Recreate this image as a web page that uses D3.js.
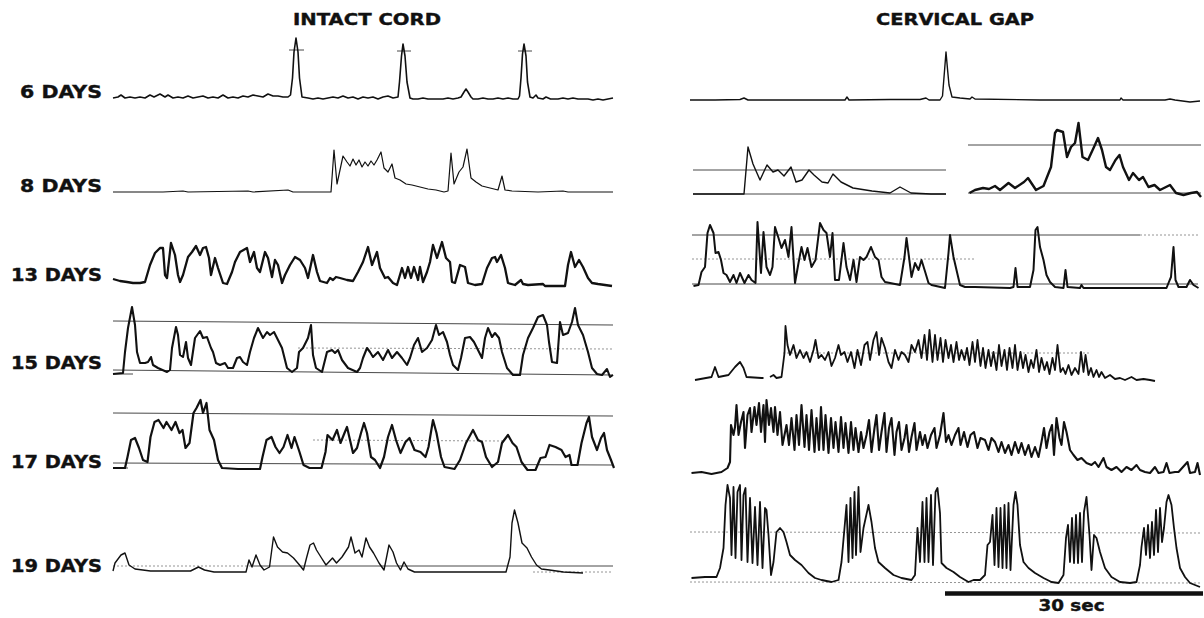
<!DOCTYPE html>
<html>
<head>
<meta charset="utf-8">
<script src="https://cdn.jsdelivr.net/npm/d3@7"></script>
<style>
  html, body { margin: 0; padding: 0; background: #fff; }
  svg { display: block; }
  text { font-family: "DejaVu Sans", "Liberation Sans", sans-serif; font-weight: bold; fill: #111; }
</style>
</head>
<body>
<script>
// ---------------- DATA ----------------
// time in sweep units (left sweep 0..100, right sweep 0..102; 51 units = 30 sec)
// amplitude in arbitrary units above each record's baseline
const panelTitles = ["INTACT CORD", "CERVICAL GAP"];
const rowLabels = ["6 DAYS", "8 DAYS", "13 DAYS", "15 DAYS", "17 DAYS", "19 DAYS"];
const scaleBarLabel = "30 sec";
const scaleBarSpan = [51, 102];

const intact6 = [[0,2],[1,3],[1.6,5],[2.4,2],[3.4,3],[4.4,2],[5.4,3],[6.4,2],[7.4,5],[8.2,3],[9.4,6],[10.4,3],[11,5],[12,2],[13,3],[14,2],[15,4],[16,2],[17,3],[18,4],[19,2],[20,3],[21,2],[22,5],[23,2],[24,3],[25,2],[26,4],[27,3],[28,5],[29,4],[30,3],[31,6],[32,4],[33,4],[34,3],[35,3],[35.5,5],[35.9,22],[36.2,48],[36.6,62],[37,48],[37.3,22],[37.8,3],[39,2],[40,1],[41,2],[42,1],[43,2],[44,3],[45,2],[46,4],[47,2],[48,3],[49,1],[50,3],[51,2],[52,3],[53,1],[54,3],[55,4],[56,2],[57,3],[57.3,18],[57.7,44],[58,56],[58.4,44],[58.8,18],[59.4,2],[60,1],[61,1],[62,2],[63,1],[64,1],[65,1],[66,1],[67,2],[68,1],[69,2],[69.6,3],[70.2,8],[70.6,11],[71,8],[71.6,3],[72,1],[73,1],[74,2],[75,1],[76,1],[77,2],[78,1],[79,2],[80,1],[81,1],[81.3,4],[81.6,22],[81.9,46],[82.2,56],[82.6,44],[82.9,18],[83.4,3],[84,2],[84.6,5],[85,2],[86,1],[86.6,3],[87.5,1],[88,1],[89,1],[90,2],[91,1],[92,2],[93,1],[94,1],[95,1],[96,0],[97,1],[98,0],[99,1],[100,2]];

const intact8 = [[0,0],[10,0],[14,1],[15,0],[27,1],[28,0],[35,2],[36,0],[43.6,0],[44.2,42],[44.8,8],[46,36],[46.8,30],[47.4,26],[48,33],[48.6,27],[49.2,32],[49.8,25],[50.4,30],[51,26],[51.6,31],[52.2,27],[52.8,32],[53.6,40],[54.2,24],[55,20],[55.8,28],[56.4,14],[57.4,12],[58.6,8],[59.8,7],[61.4,5],[63,3],[64.6,2],[66.2,0],[67,1],[67.6,39],[68.2,8],[69.2,20],[70,25],[70.8,43],[71.6,14],[72.6,10],[73.8,6],[75.4,4],[77,2],[77.8,16],[78.4,2],[79.8,1],[85,0],[90,1],[91,0],[100,0]];

const intact13 = [[0,6],[1.4,4],[2.8,3],[4,2],[5.4,2],[6.4,3],[7.4,20],[8.4,32],[9.4,37],[10,37],[10.4,10],[10.8,7],[11.6,42],[12.4,30],[13,10],[13.4,3],[14,10],[15,28],[15.8,33],[16.6,39],[17.4,30],[18,37],[18.6,38],[19.2,27],[19.6,10],[20.4,27],[21,17],[22,2],[22.8,1],[23.8,13],[24.4,23],[25.4,33],[26.8,37],[27.4,23],[28.2,33],[28.8,17],[29.4,13],[30.4,33],[31,27],[31.8,8],[32.4,25],[33,20],[33.8,2],[34.4,10],[35.4,20],[36.4,28],[37.4,25],[38.4,17],[39,7],[40,30],[40.8,13],[41.4,4],[42.8,2],[43.4,7],[44,5],[44.6,8],[45.4,7],[46.8,5],[48,4],[49,13],[50,23],[51,38],[51.8,20],[52.8,33],[53.4,17],[54.4,7],[55,8],[56,2],[56.8,0],[57.8,17],[58.4,7],[59,18],[59.6,7],[60.2,18],[61,5],[61.4,18],[62,3],[62.8,13],[63.4,23],[64,40],[64.8,27],[65.8,43],[66.6,27],[67.4,23],[67.8,3],[68.4,2],[69.4,20],[70.4,18],[71,2],[72.4,0],[73.8,1],[74.8,17],[75.8,27],[76.4,28],[76.8,23],[77.6,30],[78.4,17],[79,2],[80.4,0],[81.6,5],[82,1],[83,0],[86,1],[86.4,-1],[88.4,-1],[90.4,-1],[91,20],[91.6,33],[92.4,18],[93.2,25],[94,18],[95,7],[95.8,2],[97,1],[99.8,-1]];

const intact15 = [[0,0],[2,1],[2.4,22],[3,46],[3.8,67],[4.4,49],[4.8,22],[5.4,11],[6.4,11],[7,12],[7.6,17],[8,9],[9,6],[10.8,2],[11.4,4],[11.8,26],[12.6,47],[13,39],[13.4,19],[14,17],[14.6,32],[15,16],[15.6,9],[16.4,36],[17.4,43],[18,36],[18.8,37],[19.6,26],[20,22],[20.6,11],[21.4,9],[22.4,11],[23,6],[24,6],[24.8,16],[25.4,17],[26,12],[26.8,9],[27.4,22],[28.2,36],[29,46],[30,36],[30.8,42],[31.4,39],[32.2,42],[33,34],[33.8,26],[34.8,6],[35.8,2],[36.8,6],[37.2,22],[38,26],[39,36],[39.6,49],[40,19],[40.6,6],[41.8,2],[42.8,22],[43.8,24],[44.4,21],[45,24],[45.8,14],[47,6],[48.8,2],[49.4,6],[50,16],[50.8,26],[51.4,22],[52,17],[53,22],[54,14],[55,24],[55.8,16],[56.8,22],[57.8,16],[58.8,9],[59.4,16],[60.2,29],[61,36],[61.8,22],[62.8,26],[63.8,34],[64.6,49],[65.2,39],[66,42],[66.8,32],[67.4,19],[68,9],[69,4],[69.6,16],[70.4,36],[71.4,37],[72.2,32],[73.2,22],[73.8,16],[74.4,36],[75,46],[75.8,37],[76.4,41],[77.2,36],[77.8,22],[78.8,6],[80,-1],[81.4,-1],[82,19],[83,36],[84,46],[85,57],[86,59],[86.8,49],[87.2,32],[87.8,12],[88.8,11],[89.4,52],[90,39],[91,41],[91.8,52],[92.4,66],[93,49],[94,39],[95,22],[95.8,6],[96.8,0],[97.8,-1],[98.8,5],[99.4,-3],[100,-1]];

const intact17 = [[0,0],[2.4,0],[2.9,11],[3.6,28],[4.4,30],[5.2,20],[6,8],[6.9,6],[7.5,31],[8.3,46],[9.1,48],[10.1,40],[10.7,46],[11.7,38],[12.5,46],[13.3,35],[13.9,38],[14.5,20],[15.3,25],[16.1,55],[16.7,60],[17.5,68],[18,55],[18.7,65],[19.3,38],[20.2,28],[21,8],[21.8,0],[25,-1],[29.4,-1],[29.9,11],[30.7,28],[31.7,31],[32.5,21],[33.3,15],[34.1,21],[34.9,33],[35.7,20],[36.3,31],[37.3,16],[38.1,3],[39.3,0],[41.7,0],[42.5,16],[42.9,33],[43.9,28],[44.8,38],[45.5,25],[46.3,35],[46.8,41],[47.4,28],[48,15],[48.8,20],[49.6,35],[50.2,45],[50.8,35],[51.6,11],[52.4,8],[53.4,0],[54.2,11],[55,31],[55.8,43],[56.6,28],[57.5,15],[58.5,26],[59.3,30],[60.3,18],[61.5,16],[62.5,11],[63.1,21],[64,48],[64.7,35],[65.6,11],[66.3,1],[68.3,-1],[69.4,8],[70.6,25],[72,38],[73,28],[73.8,26],[74.6,11],[75.8,1],[77,6],[77.8,25],[79,33],[79.9,25],[80.7,21],[81.7,6],[82.9,-2],[84.5,-2],[85.5,10],[86.5,11],[87.3,23],[88.5,21],[89.7,18],[90.5,11],[91.3,13],[91.7,3],[92.9,3],[93.7,25],[94.7,45],[95.2,51],[95.8,31],[96.8,18],[97.6,30],[98.2,35],[98.8,18],[99.6,8],[100.2,0]];

const intact19 = [[0,1],[0.4,9],[1.6,17],[2.4,19],[3.2,7],[4.4,3],[7.5,1],[15.5,1],[17.1,5],[18.3,2],[20.2,0],[26.6,0],[27.2,12],[27.8,5],[28.6,17],[29.4,7],[30.2,2],[31.3,5],[32.1,35],[32.9,25],[33.9,20],[34.9,19],[36.1,14],[37.3,7],[38.1,2],[38.7,14],[39.4,27],[40.1,29],[40.7,22],[41.7,14],[42.6,7],[43.9,14],[44.7,9],[45.8,15],[47.1,25],[47.6,35],[48.4,19],[49.2,22],[49.8,15],[50.6,34],[51.3,25],[52.1,19],[53.2,9],[54.2,2],[55.2,27],[56,20],[56.7,9],[57.5,2],[58.2,10],[59,3],[60.3,0],[78.6,0],[79.4,15],[79.8,49],[80.3,62],[81,49],[81.8,29],[82.8,24],[83.7,15],[84.7,7],[85.7,3],[87.3,2],[90.1,0],[94,-1]];

const gap6 = [[0,1],[5,1],[10,1.5],[10.8,3],[11.6,1],[20,1],[31,1],[31.4,4],[31.8,1],[40,1.5],[46,1.5],[47.2,3],[47.8,1],[50,1],[50.5,5],[50.9,30],[51.2,49],[51.5,32],[51.8,16],[52.4,4],[54,3],[56,2],[56.4,4],[57,2],[70,1],[80,1],[86,1],[86.2,3],[86.6,1],[95,1],[96,2],[97,1],[100,-1],[102,0]];

const gap8a = [[0.6,0],[10.8,0],[11.6,47],[12.6,30],[14,14],[15.4,29],[16.6,22],[17.6,24],[18.8,18],[20.2,27],[21.2,12],[22.4,14],[23.8,24],[24.8,19],[26.4,12],[27.6,11],[28.6,20],[30.2,12],[32.6,6],[36.4,3],[40,1],[42,7],[44.2,1],[48.2,0],[51.2,0]];

const gap8b = [[55.9,1],[57,4],[58.6,6],[59.8,5],[61,8],[62,4],[63.7,11],[65,6],[66.8,12],[67.6,16],[69.2,4],[70.7,8],[72.2,27],[73,61],[73.4,64],[74.6,62],[75.4,37],[76.2,47],[77,51],[77.7,71],[78.5,37],[79.6,34],[80.8,47],[81.6,56],[82.4,44],[83.2,27],[84,24],[85.1,34],[85.9,39],[86.6,27],[87.8,14],[88.6,21],[89.8,14],[90.6,17],[91.7,7],[92.9,9],[94,4],[96,9],[97.2,1],[98.7,-1],[100.2,1],[101.4,2],[102.2,-3]];

const gap13 = [[0.7,-1],[1.7,0],[2.3,13],[3,18],[3.5,52],[4,60],[4.7,52],[5.1,32],[5.7,33],[6.2,25],[6.7,12],[7.3,10],[8,3],[8.7,10],[9.3,2],[10,12],[10.9,2],[11.7,10],[12.3,5],[13.1,2],[13.5,63],[14.2,12],[14.7,53],[15.3,18],[16,10],[16.5,18],[17,58],[17.7,47],[18.3,37],[19,45],[19.7,28],[20.3,58],[21,2],[21.7,22],[22.3,38],[22.9,25],[23.5,37],[24.3,18],[25.1,25],[26,62],[26.7,55],[27.3,52],[28,28],[28.5,52],[29,5],[29.8,5],[30.7,42],[31.3,18],[32,5],[32.7,25],[33.3,3],[34,28],[34.7,25],[35.3,28],[36.2,38],[37,28],[37.7,25],[38.3,8],[39,3],[40,2],[42,0],[42.9,28],[43.3,47],[43.8,28],[44.3,8],[45,22],[45.7,15],[46.3,25],[47.1,12],[47.7,2],[48.3,0],[51,-3],[51.7,32],[52,50],[52.7,28],[53.3,15],[54,0],[55,-2],[57,-2],[64,-3],[64.7,-2],[65.1,17],[65.5,-2],[68,-2],[68.7,15],[69.1,55],[69.5,58],[70,38],[70.7,25],[71.3,10],[72,3],[73,-2],[74.7,-3],[75.1,15],[75.5,-2],[78,-3],[78.3,0],[78.7,-3],[95.3,-3],[95.7,2],[96.2,8],[96.7,38],[97.1,5],[97.7,-2],[99.3,-2],[100,5],[100.7,0],[101.7,-3]];

const gap15 = [[1,0],[4.3,3],[5,13],[5.7,3],[7.7,5],[9,13],[10,18],[10.7,12],[11.3,3],[14.3,2],[14.7,2],[15.2,null],[16,3],[16.7,5],[17.3,2],[18.3,3],[18.9,27],[19.1,54],[19.5,35],[20,25],[20.7,35],[21.3,22],[22,30],[22.7,22],[23.3,28],[24,18],[24.7,30],[25.1,40],[25.7,22],[26.3,25],[27,20],[27.7,28],[28.3,14],[29,22],[29.7,35],[30.2,25],[30.9,28],[31.5,18],[32.2,28],[32.9,12],[33.5,30],[34.2,15],[34.9,35],[35.5,38],[36,20],[36.7,40],[37.3,48],[37.8,25],[38.3,42],[39,32],[39.7,18],[40.3,12],[41,30],[41.7,20],[42.3,28],[43,25],[43.7,18],[44.3,35],[45,28],[45.7,40],[46.3,22],[46.9,45],[47.4,20],[47.9,50],[48.5,18],[49,45],[49.5,20],[50.1,42],[50.6,18],[51.1,40],[51.7,22],[52.2,35],[52.7,18],[53.3,38],[53.8,20],[54.3,30],[54.9,20],[55.4,32],[55.9,15],[56.5,38],[57,18],[57.5,40],[58.1,14],[58.6,32],[59.1,12],[59.7,30],[60.2,14],[60.7,28],[61.3,10],[61.8,35],[62.3,14],[62.9,30],[63.4,10],[63.9,32],[64.5,12],[65,35],[65.5,10],[66.1,28],[66.6,12],[67.1,25],[67.7,8],[68.2,20],[68.7,12],[69.3,30],[69.8,8],[70.3,22],[70.9,10],[71.4,18],[71.9,6],[72.5,22],[73,10],[73.5,35],[74.1,8],[74.6,12],[75.1,6],[75.7,15],[76.3,5],[77,12],[77.7,6],[78.2,28],[78.7,8],[79.1,25],[79.7,5],[80.2,12],[80.7,3],[81.3,10],[81.8,3],[82.3,8],[83,2],[84,5],[85,1],[86,2],[87,0],[88.3,3],[89.3,0],[90.7,1],[92,0],[93,-1]];

const gap17 = [[0.3,1],[2.3,2],[4.3,0],[6.3,2],[7.5,6],[8,12],[8.2,49],[8.7,39],[9,47],[9.3,69],[9.7,39],[10.2,52],[10.7,62],[11,26],[11.5,59],[12,66],[12.3,42],[12.9,67],[13.3,49],[13.8,71],[14.2,42],[14.7,69],[15,32],[15.3,74],[15.8,49],[16.2,66],[16.7,42],[17,67],[17.5,39],[18,62],[18.5,29],[18.9,39],[19.3,49],[19.8,29],[20.3,56],[20.9,24],[21.3,59],[21.8,29],[22.3,69],[22.9,27],[23.3,59],[23.8,24],[24.3,64],[24.9,22],[25.3,56],[25.8,24],[26.2,67],[26.7,24],[27.1,59],[27.7,21],[28.2,56],[28.7,26],[29.1,52],[29.7,22],[30.2,57],[30.7,26],[31.1,51],[31.7,21],[32.2,52],[32.7,24],[33.1,46],[33.7,22],[34.2,42],[34.7,26],[35.3,39],[35.8,54],[36.3,22],[36.9,46],[37.3,59],[37.8,24],[38.3,42],[38.9,61],[39.3,22],[39.8,46],[40.3,56],[40.9,19],[41.3,42],[41.8,52],[42.3,24],[42.9,36],[43.3,49],[43.8,22],[44.3,37],[44.9,51],[45.3,24],[46,42],[46.5,29],[47,39],[47.5,26],[48.2,39],[48.9,46],[49.3,26],[50,39],[50.7,61],[51.2,32],[51.7,39],[52.3,29],[53,39],[53.7,46],[54.1,29],[54.8,42],[55.5,27],[56.1,39],[56.8,42],[57.5,26],[58.1,36],[59,34],[59.7,24],[60.3,36],[61,32],[61.7,22],[62.3,32],[63,21],[63.7,29],[64.3,19],[65,32],[65.7,21],[66.3,31],[67,19],[67.7,29],[68.3,17],[69,27],[69.7,17],[70.3,32],[70.8,46],[71.3,26],[71.9,42],[72.4,49],[72.8,19],[73.3,56],[73.9,36],[74.3,29],[74.8,52],[75.3,42],[76,24],[76.7,19],[77.5,14],[78.3,16],[79.3,11],[80.3,9],[81,12],[81.7,7],[82.7,16],[83.3,7],[84.3,4],[85.3,7],[86.3,2],[87.3,7],[88.3,4],[89.3,9],[90,4],[91,2],[92,1],[93,7],[93.7,1],[94.7,2],[95.3,11],[95.9,1],[97,2],[97.7,2],[99.5,12],[100,1],[101,2],[101.5,11],[102,-1]];

const gap19 = [[0.3,5],[3,6],[5.3,6],[6,15],[6.7,35],[7.1,78],[7.5,98],[8,85],[8.3,28],[8.7,96],[9.1,25],[9.5,91],[10,98],[10.3,23],[10.7,88],[11.1,95],[11.5,21],[12,85],[12.5,20],[13,76],[13.5,18],[14,81],[14.5,15],[15,75],[15.3,73],[15.7,48],[16.2,8],[16.7,21],[17.3,51],[18,55],[18.7,51],[19.3,41],[20,28],[21,23],[22.3,18],[23.7,10],[25,5],[26.3,3],[28.3,1],[29.7,3],[30.3,21],[30.9,55],[31.3,78],[31.7,21],[32.1,85],[32.5,25],[32.9,91],[33.2,28],[33.7,96],[34.1,31],[34.7,55],[35.7,78],[36.3,61],[37,35],[37.7,21],[39,15],[40.7,8],[42.3,5],[44.3,3],[45,8],[45.5,55],[46,21],[46.5,81],[46.9,21],[47.3,85],[47.7,21],[48.2,88],[48.6,18],[49.1,91],[49.5,95],[50,70],[50.3,20],[51.3,15],[52.7,11],[54,6],[55.7,1],[56.7,3],[58,3],[59,8],[59.5,38],[60,41],[60.5,68],[60.9,18],[61.3,75],[61.7,16],[62.1,75],[62.5,15],[62.9,78],[63.3,15],[63.7,80],[64.1,13],[64.7,78],[65.1,91],[65.5,78],[66,38],[66.7,21],[67.7,15],[69,10],[70.7,5],[72.3,1],[73.7,0],[74.7,8],[75.2,45],[75.6,58],[76,21],[76.4,65],[76.8,20],[77.2,68],[77.6,20],[78,70],[78.4,21],[78.8,71],[79.3,86],[79.9,48],[80.3,13],[80.8,48],[81.3,45],[82,31],[83,15],[84.3,6],[86,1],[88,0],[89.3,1],[90,18],[90.3,36],[90.8,55],[91.2,28],[91.6,58],[92,25],[92.4,61],[92.8,28],[93.2,73],[93.6,31],[94,75],[94.4,41],[94.8,55],[95.3,81],[95.7,88],[96.3,78],[96.8,55],[97.3,35],[98,15],[99,6],[100,0],[101,-2],[102,-4]];

// reference lines: [tStart, tEnd, levelStart, levelEnd, kind]
const intact6Refs  = [[35.2,38.2,50,50,"s"],[56.8,59.6,49,49,"s"],[81,83.8,49,49,"s"]];
const intact15Refs = [[0,100,53,49,"s"],[0,100,4,-1,"s"],[37,100,26,25,"d"],[0,4,0,0,"s"]];
const intact17Refs = [[0,100,55,52,"s"],[0,100,5,3,"s"],[40,78,28,27,"d"],[0,3,0,0,"s"]];
const intact19Refs = [[0,28,6,6,"d"],[28,100,6,6,"s"],[84,100,0,0,"d"]];
const gap8aRefs  = [[0.6,51.2,24,24,"s"],[0.6,51.2,0,0,"s"]];
const gap8bRefs  = [[55.6,102.2,49,49,"s"],[55.6,102.2,1,1,"s"]];
const gap13Refs  = [[0.4,90,50,50,"s"],[90,101.6,50,50,"d"],[0.4,57,26,26,"d"],[0.4,101.6,1,1,"s"]];
const gap15Refs  = [[18.6,80,27,27,"d"]];
const gap19Refs  = [[0,102,51,50,"d"],[0,102,1,0,"d"]];

// ---------------- LAYOUT ----------------
const W = 1204, H = 618;
const sweepL = [113, 613], sweepR = [690, 1200];
const rowBaseL = [100, 192, 285, 374, 468, 572];
const rowBaseR = [101, 194, 285, 380, 474, 583];
const labelBaselines = [98, 192, 281, 369, 468, 572];
const labelRight = 102;

const svg = d3.select("body").append("svg").attr("width", W).attr("height", H);

const xL = d3.scaleLinear().domain([0, 100]).range(sweepL);
const xR = d3.scaleLinear().domain([0, 102]).range(sweepR);
const yAt = base => d3.scaleLinear().domain([0, 100]).range([base, base - 100]);

// titles
const titleSpec = [
  {text: panelTitles[0], cx: 367, len: 148},
  {text: panelTitles[1], cx: 955, len: 158}
];
svg.selectAll("text.title").data(titleSpec).join("text")
  .attr("class", "title")
  .attr("x", d => d.cx - d.len / 2)
  .attr("y", 25)
  .attr("font-size", 16.5)
  .attr("stroke", "#111").attr("stroke-width", 0.4)
  .attr("textLength", d => d.len)
  .attr("lengthAdjust", "spacingAndGlyphs")
  .text(d => d.text);

// row labels
svg.selectAll("text.row").data(rowLabels).join("text")
  .attr("class", "row")
  .attr("x", d => labelRight - (d.length > 6 ? 91 : 82))
  .attr("y", (d, i) => labelBaselines[i])
  .attr("font-size", 17.5)
  .attr("stroke", "#111").attr("stroke-width", 0.4)
  .attr("textLength", d => d.length > 6 ? 91 : 82)
  .attr("lengthAdjust", "spacingAndGlyphs")
  .text(d => d);

// traces
const traces = [
  {data: intact6,  refs: intact6Refs,  x: xL, base: rowBaseL[0], w: 1.6},
  {data: intact8,  refs: [],           x: xL, base: rowBaseL[1], w: 1.2},
  {data: intact13, refs: [],           x: xL, base: rowBaseL[2], w: 2.3},
  {data: intact15, refs: intact15Refs, x: xL, base: rowBaseL[3], w: 2.1},
  {data: intact17, refs: intact17Refs, x: xL, base: rowBaseL[4], w: 2.2},
  {data: intact19, refs: intact19Refs, x: xL, base: rowBaseL[5], w: 1.4},
  {data: gap6,     refs: [],           x: xR, base: rowBaseR[0], w: 1.4},
  {data: gap8a,    refs: gap8aRefs,    x: xR, base: rowBaseR[1], w: 1.4},
  {data: gap8b,    refs: gap8bRefs,    x: xR, base: rowBaseR[1], w: 2.4},
  {data: gap13,    refs: gap13Refs,    x: xR, base: rowBaseR[2], w: 2.0},
  {data: gap15,    refs: gap15Refs,    x: xR, base: rowBaseR[3], w: 1.8},
  {data: gap17,    refs: [],           x: xR, base: rowBaseR[4], w: 2.1},
  {data: gap19,    refs: gap19Refs,    x: xR, base: rowBaseR[5], w: 1.8}
];

traces.forEach(tr => {
  const y = yAt(tr.base);
  const g = svg.append("g");
  g.selectAll("line.ref").data(tr.refs).join("line")
    .attr("class", "ref")
    .attr("x1", d => tr.x(d[0])).attr("x2", d => tr.x(d[1]))
    .attr("y1", d => y(d[2])).attr("y2", d => y(d[3]))
    .attr("stroke", d => d[4] === "d" ? "#888" : "#333")
    .attr("stroke-width", 0.9)
    .attr("stroke-dasharray", d => d[4] === "d" ? "2,2" : null);
  const line = d3.line()
    .defined(d => d[1] !== null)
    .x(d => tr.x(d[0]))
    .y(d => y(d[1]));
  g.append("path")
    .datum(tr.data)
    .attr("d", line)
    .attr("fill", "none")
    .attr("stroke", "#111")
    .attr("stroke-width", tr.w)
    .attr("stroke-linejoin", "round");
});

// 30 sec scale bar
svg.append("line")
  .attr("x1", xR(scaleBarSpan[0])).attr("x2", xR(scaleBarSpan[1]) + 3)
  .attr("y1", 593.5).attr("y2", 593.5)
  .attr("stroke", "#111").attr("stroke-width", 4.5);
svg.append("text")
  .attr("x", xR((scaleBarSpan[0] + scaleBarSpan[1]) / 2) - 34)
  .attr("y", 611)
  .attr("font-size", 15)
  .attr("stroke", "#111").attr("stroke-width", 0.4)
  .attr("textLength", 66)
  .attr("lengthAdjust", "spacingAndGlyphs")
  .text(scaleBarLabel);
</script>
</body>
</html>
